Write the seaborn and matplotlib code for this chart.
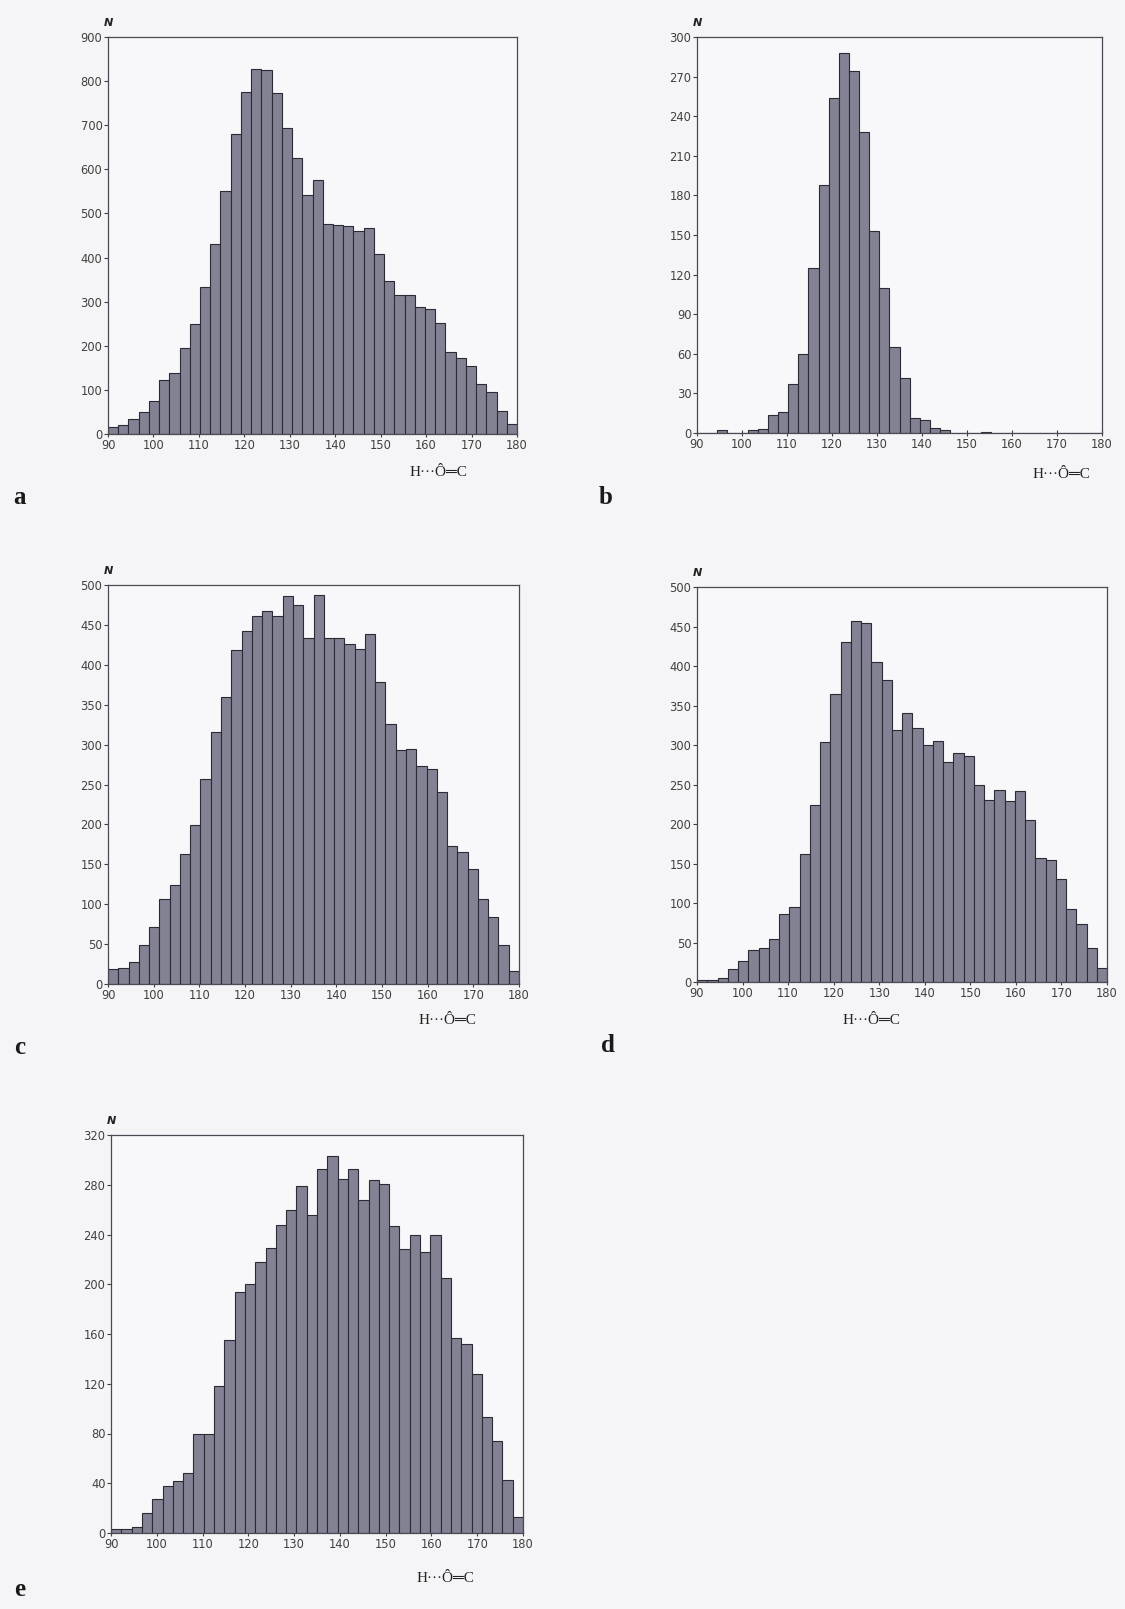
import numpy as np
import pandas as pd
import matplotlib
matplotlib.use("Agg")
import matplotlib.pyplot as plt
import seaborn as sns

# H···O=C angle distributions, 2.25-degree bins from 90 to 180
bin_width = 2.25
bin_edges = np.arange(90, 180 + bin_width / 2, bin_width)
bin_centers = (bin_edges[:-1] + bin_edges[1:]) / 2

counts_a = [15, 20, 33, 51, 75, 123, 138, 196, 250, 333,
            430, 550, 680, 776, 828, 825, 773, 694, 626, 542,
            576, 476, 473, 471, 460, 468, 409, 346, 314, 316,
            288, 283, 251, 185, 172, 154, 113, 95, 53, 22]
counts_b = [0, 0, 2, 0, 0, 2, 3, 14, 16, 37,
            60, 125, 188, 254, 288, 274, 228, 153, 110, 65,
            42, 11, 10, 4, 2, 0, 0, 0, 1, 0,
            0, 0, 0, 0, 0, 0, 0, 0, 0, 0]
counts_c = [19, 20, 28, 49, 72, 106, 124, 163, 199, 257,
            316, 360, 418, 442, 461, 467, 461, 486, 475, 434,
            488, 434, 434, 426, 420, 439, 378, 326, 293, 294,
            273, 269, 241, 173, 165, 144, 107, 84, 49, 16]
counts_d = [2, 3, 5, 17, 27, 40, 43, 54, 86, 95,
            162, 224, 304, 364, 430, 457, 455, 405, 382, 319,
            340, 321, 300, 305, 278, 290, 286, 250, 231, 243,
            229, 242, 205, 157, 155, 131, 93, 74, 43, 18]
counts_e = [3, 3, 5, 16, 27, 38, 42, 48, 80, 80,
            118, 155, 194, 200, 218, 229, 248, 260, 279, 256,
            293, 303, 285, 293, 268, 284, 281, 247, 228, 240,
            226, 240, 205, 157, 152, 128, 93, 74, 43, 13]

panel_letters = ["a", "b", "c", "d", "e"]
y_limits = [900, 300, 500, 500, 320]
y_steps = [100, 30, 50, 50, 40]
x_ticks = list(range(90, 181, 10))
x_label = "H\u00b7\u00b7\u00b7\u00d4\u2550C"

sns.set_style("white")
plt.rcParams["font.family"] = ["DejaVu Sans"]

W, H = 1125, 1609
fig = plt.figure(figsize=(W / 100, H / 100), dpi=100, facecolor="#f5f5f7")

# axes boxes in pixels: left, top, right, bottom
boxes = [
    (108, 37, 517, 434),
    (697, 37, 1102, 433),
    (108, 585, 519, 984),
    (697, 587, 1107, 982),
    (111, 1135, 523, 1533),
]
letter_pos = [(20, 498), (606, 498), (20, 1048), (608, 1046), (20, 1590)]
xlabel_pos = [(438, 473), (1061, 475), (447, 1021), (871, 1021), (445, 1578)]

all_counts = [counts_a, counts_b, counts_c, counts_d, counts_e]
bar_fill = "#828294"
bar_edge = "#2b2b36"

for i, counts in enumerate(all_counts):
    l, t, r, b = boxes[i]
    ax = fig.add_axes([l / W, 1 - b / H, (r - l) / W, (b - t) / H])
    ax.set_facecolor("#f8f8fa")
    df = pd.DataFrame({"angle": bin_centers, "n": np.asarray(counts, float)})
    sns.histplot(data=df, x="angle", weights="n", binwidth=bin_width,
                 binrange=(90, 180), ax=ax, color=bar_fill,
                 edgecolor=bar_edge, linewidth=0.8, alpha=1.0)
    ax.set_xlim(90, 180)
    ax.set_ylim(0, y_limits[i])
    ax.set_xticks(x_ticks)
    ax.set_yticks(np.arange(0, y_limits[i] + 1, y_steps[i]))
    ax.set_xlabel("")
    ax.set_ylabel("")
    ax.tick_params(axis="x", direction="inout", length=5, width=0.8,
                   labelsize=8.3, colors="#404040", pad=1, bottom=True)
    ax.tick_params(axis="y", direction="out", length=3, width=0.8,
                   labelsize=8.3, colors="#404040", pad=1, left=True)
    for s in ax.spines.values():
        s.set_color("#4a4a55")
        s.set_linewidth(0.9)
    # N above the y axis
    fig.text(l / W, 1 - (t - 14) / H, "N", fontsize=8, fontweight="bold",
             fontstyle="italic", ha="center", va="center", color="#222222")
    # angle label under the x axis
    fig.text(xlabel_pos[i][0] / W, 1 - xlabel_pos[i][1] / H, x_label,
             fontsize=11, ha="center", va="center", color="#222222",
             family=["Liberation Serif", "DejaVu Serif"])
    # panel letter
    fig.text(letter_pos[i][0] / W, 1 - letter_pos[i][1] / H, panel_letters[i],
             fontsize=18, fontweight="bold", ha="center", va="center",
             color="#1a1a1a", family=["Liberation Serif", "DejaVu Serif"])

fig.savefig("out.png", dpi=100, facecolor=fig.get_facecolor())
